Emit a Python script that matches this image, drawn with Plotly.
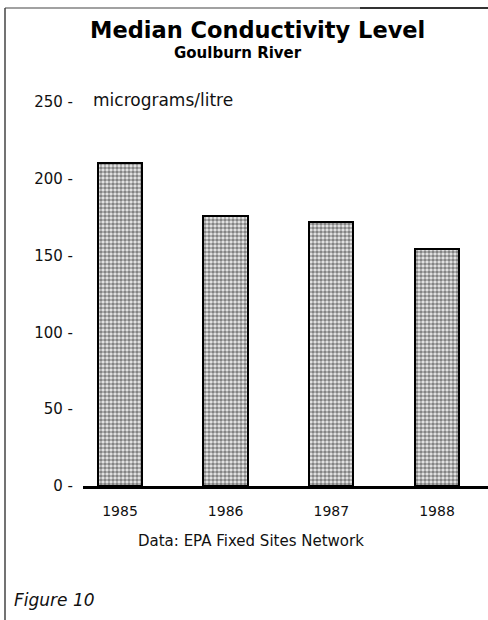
import plotly.graph_objects as go

# Median conductivity, Goulburn River (micrograms/litre)
years = ["1985", "1986", "1987", "1988"]
conductivity = [210, 176, 172, 154]
y_ticks = [0, 50, 100, 150, 200, 250]

W, H = 488, 620
L, R, T, B = 83, 0, 102, 134
PW, PH = W - L - R, H - T - B


def px_x(px):
    return (px - L) / PW


def px_y(py):
    return (H - B - py) / PH


fig = go.Figure(
    go.Bar(
        x=years,
        y=conductivity,
        width=0.42,
        marker=dict(
            color="white",
            line=dict(color="black", width=2),
            pattern=dict(shape=".", size=4, solidity=0.65,
                         fgcolor="#1a1a1a", bgcolor="#eeeeee"),
        ),
        hoverinfo="skip",
    )
)

font = "DejaVu Sans"

fig.update_layout(
    width=W,
    height=H,
    margin=dict(l=L, r=R, t=T, b=B, pad=0),
    paper_bgcolor="white",
    plot_bgcolor="white",
    showlegend=False,
    font=dict(family=font, color="#111"),
    bargap=0,
)

fig.update_xaxes(
    type="category",
    range=[-0.35, 3.483],
    showgrid=False,
    zeroline=False,
    showline=True,
    linecolor="black",
    linewidth=3,
    ticks="",
    ticklabelstandoff=10,
    tickfont=dict(size=14, family=font, color="#111"),
)

fig.update_yaxes(
    range=[0, 250],
    tickvals=y_ticks,
    ticktext=[f"{v} -" for v in y_ticks],
    showgrid=False,
    zeroline=False,
    showline=False,
    ticks="",
    ticklabelstandoff=9,
    tickfont=dict(size=15, family=font, color="#111"),
)

annotations = [
    dict(text="<b>Median Conductivity Level</b>", x=px_x(257), y=px_y(30),
         font=dict(size=22.5, family=font, color="#000")),
    dict(text="<b>Goulburn River</b>", x=px_x(238), y=px_y(53),
         font=dict(size=15, family=font, color="#000")),
    dict(text="micrograms/litre", x=px_x(91), y=px_y(100), xanchor="left",
         font=dict(size=17, family=font, color="#111")),
    dict(text="Data: EPA Fixed Sites Network", x=px_x(251), y=px_y(541),
         font=dict(size=15, family=font, color="#111")),
    dict(text="<i>Figure 10</i>", x=px_x(12), y=px_y(600), xanchor="left",
         font=dict(size=17, family=font, color="#111")),
]
for a in annotations:
    a.update(xref="paper", yref="paper", showarrow=False)
    a.setdefault("xanchor", "center")
    a["yanchor"] = "middle"
fig.update_layout(annotations=annotations)

# Frame lines along the top and left edges
fig.update_layout(shapes=[
    dict(type="line", xref="paper", yref="paper",
         x0=px_x(5), x1=px_x(360), y0=px_y(8), y1=px_y(8),
         line=dict(color="#444", width=1.2)),
    dict(type="line", xref="paper", yref="paper",
         x0=px_x(360), x1=px_x(490), y0=px_y(8), y1=px_y(8),
         line=dict(color="#333", width=2.2)),
    dict(type="line", xref="paper", yref="paper",
         x0=px_x(5), x1=px_x(5), y0=px_y(8), y1=px_y(622),
         line=dict(color="#444", width=1.5)),
])

fig.write_html("out.html")
